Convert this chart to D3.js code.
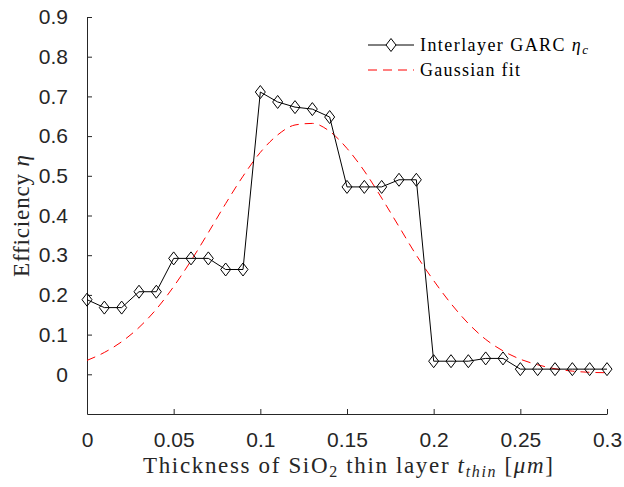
<!DOCTYPE html>
<html><head><meta charset="utf-8">
<script src="https://cdn.jsdelivr.net/npm/d3@7"></script>
<style>body{margin:0;background:#fff}</style>
</head><body>
<svg id="c" width="624" height="487"></svg>
<script>
const thickness = [0,0.01,0.02,0.03,0.04,0.05,0.06,0.07,0.08,0.09,0.10,0.11,0.12,0.13,0.14,0.15,0.16,0.17,0.18,0.19,0.20,0.21,0.22,0.23,0.24,0.25,0.26,0.27,0.28,0.29,0.30];
const efficiency = [0.188,0.168,0.168,0.208,0.208,0.292,0.292,0.292,0.264,0.264,0.711,0.686,0.673,0.668,0.648,0.472,0.472,0.472,0.490,0.490,0.033,0.033,0.033,0.040,0.040,0.013,0.013,0.013,0.013,0.013,0.013];
const gaussFit = [0.035,0.055,0.082,0.118,0.164,0.221,0.286,0.357,0.430,0.499,0.559,0.603,0.628,0.632,0.612,0.569,0.512,0.444,0.372,0.300,0.236,0.178,0.128,0.088,0.059,0.038,0.024,0.014,0.008,0.005,0.004];
const xTicks = [0,0.05,0.1,0.15,0.2,0.25,0.3];
const xTickLabels = ["0","0.05","0.1","0.15","0.2","0.25","0.3"];
const yTicks = [0,0.1,0.2,0.3,0.4,0.5,0.6,0.7,0.8,0.9];
const yTickLabels = ["0","0.1","0.2","0.3","0.4","0.5","0.6","0.7","0.8","0.9"];

const svg = d3.select("#c");
const m = {left:87, right:17, top:17, bottom:73};
const W = 624, H = 487;
const x = d3.scaleLinear().domain([0,0.3]).range([m.left, W-m.right]);
const y = d3.scaleLinear().domain([-0.1,0.9]).range([H-m.bottom, m.top]);
const axisCol = "#262626";
const tickFont = "'Liberation Sans', Arial, sans-serif";
const serif = "'Liberation Serif', 'Times New Roman', serif";

// axes
const xAxis = d3.axisBottom(x).tickValues(xTicks).tickFormat((d,i)=>xTickLabels[i]).tickSizeInner(-5).tickSizeOuter(0).tickPadding(18);
const gx = svg.append("g").attr("transform",`translate(0,${H-m.bottom})`).call(xAxis);
const yAxis = d3.axisLeft(y).tickValues(yTicks).tickFormat((d,i)=>yTickLabels[i]).tickSizeInner(-5).tickSizeOuter(0).tickPadding(19);
const gy = svg.append("g").attr("transform",`translate(${m.left},0)`).call(yAxis);
[gx,gy].forEach(g=>{
  g.select(".domain").attr("stroke",axisCol).attr("stroke-width",1);
  g.selectAll(".tick line").attr("stroke",axisCol).attr("stroke-width",1);
  g.selectAll(".tick text").attr("fill",axisCol).style("font-family",tickFont).style("font-size","21px");
});

// gaussian fit
const line = d3.line().x((d,i)=>x(thickness[i])).y(d=>y(d)).curve(d3.curveMonotoneX);
svg.append("path").datum(gaussFit).attr("d",line).attr("fill","none")
  .attr("stroke","#ff0000").attr("stroke-width",1).attr("stroke-dasharray","9,6");

// data line
const line2 = d3.line().x((d,i)=>x(thickness[i])).y(d=>y(d));
svg.append("path").datum(efficiency).attr("d",line2).attr("fill","none")
  .attr("stroke","#000").attr("stroke-width",1);
const dia = (cx,cy)=>`M${cx},${cy-6.5}L${cx+5},${cy}L${cx},${cy+6.5}L${cx-5},${cy}Z`;
svg.append("g").selectAll("path").data(efficiency).join("path")
  .attr("d",(d,i)=>dia(x(thickness[i]),y(d)))
  .attr("fill","none").attr("stroke","#000").attr("stroke-width",1);

// axis labels
const xl = svg.append("text").attr("x",143).attr("y",473)
  .attr("textLength",410).attr("lengthAdjust","spacing")
  .style("font-family",serif).style("font-size","23px").attr("fill",axisCol);
xl.append("tspan").text("Thickness of SiO");
xl.append("tspan").attr("baseline-shift","-25%").style("font-size","16px").text("2");
xl.append("tspan").text(" thin layer ");
xl.append("tspan").style("font-style","italic").text("t");
xl.append("tspan").attr("baseline-shift","-25%").style("font-size","16px").style("font-style","italic").text("thin");
xl.append("tspan").text(" [");
xl.append("tspan").style("font-style","italic").text("μm");
xl.append("tspan").text("]");

const yl = svg.append("text").attr("transform",`translate(29,277) rotate(-90)`)
  .attr("textLength",122).attr("lengthAdjust","spacing")
  .style("font-family",serif).style("font-size","23px").attr("fill",axisCol);
yl.append("tspan").text("Efficiency ");
yl.append("tspan").style("font-style","italic").text("η");

// legend
const lg = svg.append("g");
lg.append("line").attr("x1",368).attr("x2",414).attr("y1",45).attr("y2",45).attr("stroke","#000");
lg.append("path").attr("d",dia(391,45)).attr("fill","#fff").attr("stroke","#000");
lg.append("line").attr("x1",368).attr("x2",414).attr("y1",70).attr("y2",70).attr("stroke","#ff0000").attr("stroke-dasharray","9,6");
const t1 = lg.append("text").attr("x",420).attr("y",51)
  .attr("textLength",168).attr("lengthAdjust","spacing")
  .style("font-family",serif).style("font-size","18px").attr("fill","#000");
t1.append("tspan").text("Interlayer GARC ");
t1.append("tspan").style("font-style","italic").text("η");
t1.append("tspan").attr("baseline-shift","-25%").style("font-size","13px").style("font-style","italic").text("c");
lg.append("text").attr("x",420).attr("y",76)
  .attr("textLength",100).attr("lengthAdjust","spacing")
  .style("font-family",serif).style("font-size","18px").attr("fill","#000").text("Gaussian fit");
</script>
</body></html>
